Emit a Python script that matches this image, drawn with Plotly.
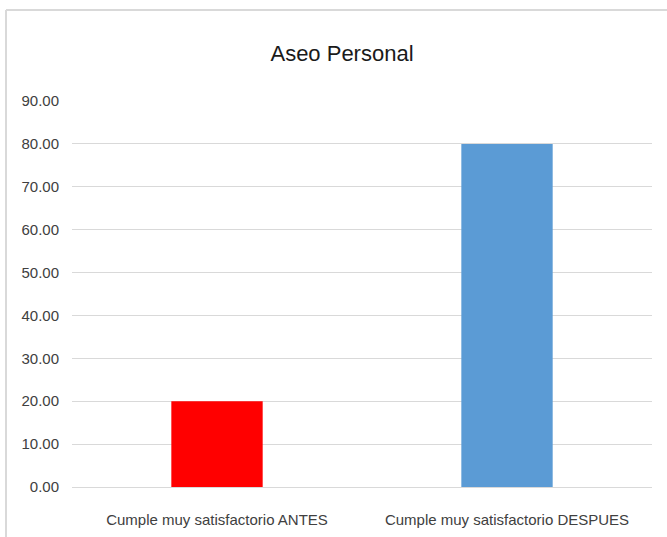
import plotly.graph_objects as go

categories = ["Cumple muy satisfactorio ANTES", "Cumple muy satisfactorio DESPUES"]
values = [20.0, 80.0]
bar_colors = ["#FF0000", "#5B9BD5"]
tick_vals = [0, 10, 20, 30, 40, 50, 60, 70, 80, 90]
tick_text = [f"{v:.2f}" for v in tick_vals]

W, H = 667, 537
ml, mr, mt, mb = 72, 15, 101, 50
pw, ph = W - ml - mr, H - mt - mb

def px_to_paper_x(px):
    return (px - ml) / pw

def px_to_paper_y(py):
    return (H - mb - py) / ph

FONT = "Liberation Sans, Arial, sans-serif"

fig = go.Figure(
    go.Bar(
        x=categories,
        y=values,
        marker=dict(color=bar_colors, line=dict(width=0)),
    )
)

fig.update_layout(
    width=W,
    height=H,
    margin=dict(l=ml, r=mr, t=mt, b=mb),
    paper_bgcolor="white",
    plot_bgcolor="white",
    bargap=0.685,
    showlegend=False,
    title=dict(
        text="Aseo Personal",
        x=342 / W,
        xanchor="center",
        y=1 - 53 / H,
        yanchor="middle",
        font=dict(family=FONT, size=22, color="#1A1A1A"),
    ),
    font=dict(family=FONT, size=15, color="#404040"),
    xaxis=dict(
        showgrid=False,
        showline=False,
        ticks="",
        automargin=False,
        ticklabelstandoff=22,
        tickfont=dict(family=FONT, size=15, color="#404040"),
    ),
    yaxis=dict(
        range=[0, 90],
        tickvals=tick_vals,
        ticktext=tick_text,
        showgrid=True,
        gridcolor="#D9D9D9",
        gridwidth=1,
        zeroline=True,
        zerolinecolor="#D9D9D9",
        zerolinewidth=1,
        showline=False,
        ticks="",
        automargin=False,
        ticklabelstandoff=12,
        tickfont=dict(family=FONT, size=15, color="#404040"),
    ),
    shapes=[
        dict(
            type="line", xref="paper", yref="paper",
            x0=px_to_paper_x(6), x1=px_to_paper_x(700),
            y0=px_to_paper_y(10), y1=px_to_paper_y(10),
            line=dict(color="#D9D9D9", width=2),
        ),
        dict(
            type="line", xref="paper", yref="paper",
            x0=px_to_paper_x(6), x1=px_to_paper_x(6),
            y0=px_to_paper_y(10), y1=px_to_paper_y(560),
            line=dict(color="#D9D9D9", width=2),
        ),
    ],
)

fig.write_html("out.html")
